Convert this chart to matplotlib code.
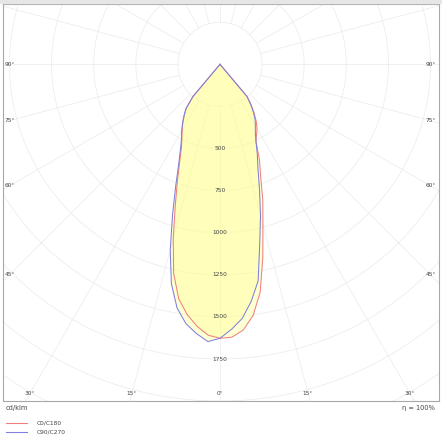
import matplotlib.pyplot as plt
import numpy as np

# gamma angles (deg) and luminous intensity (cd/klm) per C-plane
gamma = [0, 2.5, 5, 7.5, 10, 12.5, 15, 17.5, 20, 22.5, 25, 27.5, 30, 32.5, 35, 37.5, 40,
         45, 50, 55, 60, 65, 70, 75, 80, 85, 90]
c0 = [1627, 1622, 1584, 1505, 1374, 1175, 985, 845, 705, 612, 505, 470, 440, 400, 352, 305, 250,
      0, 0, 0, 0, 0, 0, 0, 0, 0, 0]
c180 = [1627, 1610, 1562, 1498, 1413, 1272, 1073, 884, 741, 625, 540, 490, 450, 410, 370, 330, 250,
        0, 0, 0, 0, 0, 0, 0, 0, 0, 0]
c90 = [1627, 1575, 1515, 1420, 1305, 1090, 930, 780, 660, 579, 506, 454, 420, 388, 345, 298, 248,
       0, 0, 0, 0, 0, 0, 0, 0, 0, 0]
c270 = [1627, 1648, 1605, 1553, 1469, 1334, 1142, 937, 769, 640, 555, 495, 455, 414, 373, 332, 250,
        0, 0, 0, 0, 0, 0, 0, 0, 0, 0]

ring_values = [250, 500, 750, 1000, 1250, 1500, 1750, 2000, 2250, 2500]
ring_labels = [500, 750, 1000, 1250, 1500, 1750]
side_angles = [90, 75, 60, 45]
bottom_angles = [30, 15, 0]

W, H = 442, 440
k = 250 / 42.1          # cd per pixel
cx, cy = 220, 64.3       # pole in pixels
box = (2.5, 3.5, 439, 400.5)  # left, top, right, bottom in pixels

fig = plt.figure(figsize=(W / 100, H / 100), dpi=100)
ax = fig.add_axes([box[0] / W, 1 - box[3] / H, (box[2] - box[0]) / W, (box[3] - box[1]) / H])
ax.set_xlim((box[0] - cx) * k, (box[2] - cx) * k)
ax.set_ylim(-(box[3] - cy) * k, (cy - box[1]) * k)
ax.set_aspect('equal')
ax.set_xticks([])
ax.set_yticks([])
for s in ax.spines.values():
    s.set_color('#a8a8a8')
    s.set_linewidth(0.8)

# top gray band
fig.patches.append(plt.Rectangle((0, 1 - 3 / H), 1, 3 / H, transform=fig.transFigure,
                                 color='#e6e6e6', zorder=0))

gridc = '#ececec'
t = np.linspace(0, 2 * np.pi, 400)
for r in ring_values:
    ax.plot(r * np.cos(t), r * np.sin(t), color=gridc, lw=0.55, zorder=1)
for a in range(0, 360, 15):
    ar = np.radians(a)
    ax.plot([250 * np.sin(ar), 3000 * np.sin(ar)], [-250 * np.cos(ar), -3000 * np.cos(ar)],
            color=gridc, lw=0.55, zorder=1)

g = np.radians(gamma)


def outline(right, left):
    right = np.array(right, float)
    left = np.array(left, float)
    x = np.concatenate([(right * np.sin(g))[::-1], -left * np.sin(g)])
    y = np.concatenate([(-right * np.cos(g))[::-1], -left * np.cos(g)])
    return x, y


red = '#f08080'
blue = '#8080dc'
x1, y1 = outline(c0, c180)
x2, y2 = outline(c90, c270)
ax.fill(x1, y1, color='#ffff99', alpha=0.42, lw=0, zorder=2)
ax.fill(x2, y2, color='#ffff99', alpha=0.42, lw=0, zorder=2)
ax.plot(x1, y1, color=red, lw=0.75, zorder=4)
ax.plot(x2, y2, color=blue, lw=0.75, zorder=4)

tc = '#444444'
fs = 4.2
for r in ring_labels:
    ax.text(0, -r, str(r), ha='center', va='center', fontsize=fs, color=tc, zorder=5)

xin = (cx - 9.5) * k
for a in side_angles:
    yy = -xin / np.tan(np.radians(a)) if a != 90 else 0
    ax.text(-xin, yy, f'{a}°', ha='center', va='center', fontsize=fs, color=tc, zorder=5)
    ax.text(xin, yy, f'{a}°', ha='center', va='center', fontsize=fs, color=tc, zorder=5)
ybot = -(393 - cy) * k
for a in bottom_angles:
    xx = -ybot * np.tan(np.radians(a))
    ax.text(-xx, ybot, f'{a}°', ha='center', va='center', fontsize=fs, color=tc, zorder=5)
    if a != 0:
        ax.text(xx, ybot, f'{a}°', ha='center', va='center', fontsize=fs, color=tc, zorder=5)

fig.text(6 / W, 1 - 408 / H, 'cd/klm', fontsize=4.8, color=tc, ha='left', va='center')
fig.text(435 / W, 1 - 408 / H, 'η = 100%', fontsize=4.8, color=tc, ha='right', va='center')

for yy, col, lab in [(423, red, 'C0/C180'), (432, blue, 'C90/C270')]:
    fig.add_artist(plt.Line2D([6 / W, 27 / W], [1 - yy / H, 1 - yy / H], color=col, lw=0.8))
    fig.text(37 / W, 1 - yy / H, lab, fontsize=4.2, color=tc, ha='left', va='center')

fig.savefig('out.png', dpi=100)
